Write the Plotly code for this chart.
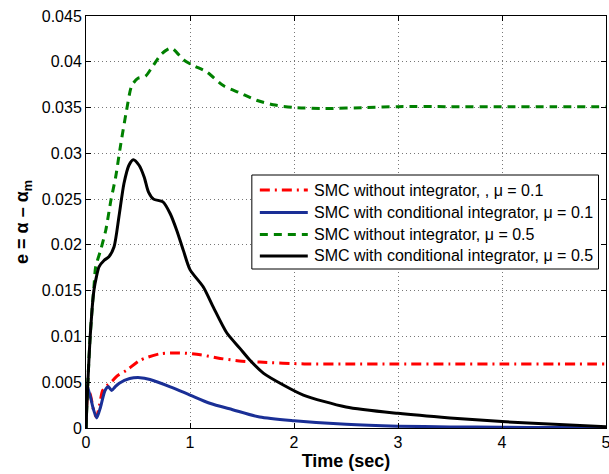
import plotly.graph_objects as go

# Tracking error e = alpha - alpha_m for the four controller runs
t_red = [0, 0.02, 0.045, 0.07, 0.1, 0.13, 0.16, 0.2, 0.25, 0.3, 0.39, 0.52, 0.71, 0.9,
         1.1, 1.29, 1.5, 1.67, 2.1, 2.5, 3.0, 3.5, 4.0, 4.5, 5.0]
e_red = [0, 0.0043, 0.0035, 0.0021, 0.0012, 0.0025, 0.0041, 0.0046, 0.0051, 0.0057,
         0.0063, 0.0074, 0.0081, 0.0082, 0.0080, 0.0076, 0.0073, 0.0072, 0.0070,
         0.0070, 0.0070, 0.0070, 0.0070, 0.0070, 0.0070]

t_blue = [0, 0.012, 0.02, 0.045, 0.07, 0.103, 0.14, 0.183, 0.215, 0.247, 0.28, 0.32,
          0.42, 0.52, 0.615, 0.81, 1.0, 1.19, 1.41, 1.67, 2.0, 2.5, 3.0, 3.5, 4.0,
          4.5, 5.0]
e_blue = [0, 0.0046, 0.0043, 0.0033, 0.0021, 0.0011, 0.0023, 0.0041, 0.0045, 0.0041,
          0.0045, 0.0049, 0.0054, 0.0055, 0.0053, 0.0045, 0.0036, 0.0027, 0.0020,
          0.0012, 0.0008, 0.0004, 0.0002, 0.00012, 0.00008, 0.00005, 0.00003]

t_green = [0, 0.01, 0.022, 0.038, 0.06, 0.077, 0.093, 0.14, 0.19, 0.24, 0.285, 0.33,
           0.39, 0.44, 0.5, 0.57, 0.63, 0.73, 0.82, 0.94, 1.03, 1.16, 1.32, 1.48,
           1.64, 1.8, 2.0, 2.3, 2.7, 3.0, 3.5, 4.0, 4.5, 5.0]
e_green = [0, 0.003, 0.006, 0.0096, 0.0132, 0.0155, 0.0176, 0.0194, 0.0216, 0.0249,
           0.0274, 0.0307, 0.0347, 0.0374, 0.0382, 0.0384, 0.0393, 0.0409, 0.0415,
           0.0402, 0.0396, 0.0389, 0.0374, 0.0366, 0.0358, 0.0353, 0.0350, 0.0349,
           0.0350, 0.0351, 0.0351, 0.0351, 0.0351, 0.0351]

t_black = [0, 0.01, 0.022, 0.038, 0.06, 0.077, 0.1, 0.125, 0.173, 0.22, 0.27, 0.317,
           0.365, 0.413, 0.455, 0.51, 0.56, 0.6, 0.65, 0.74, 0.81, 0.872, 0.936, 1.0,
           1.128, 1.224, 1.353, 1.48, 1.577, 1.705, 1.897, 2.09, 2.5, 3.0, 3.5, 4.0,
           4.5, 5.0]
e_black = [0, 0.003, 0.006, 0.0096, 0.0132, 0.0151, 0.0165, 0.0176, 0.0183, 0.0187,
           0.0198, 0.0231, 0.0267, 0.0287, 0.0293, 0.0287, 0.0274, 0.0258, 0.0250,
           0.0247, 0.0234, 0.0216, 0.0194, 0.0173, 0.0154, 0.0132, 0.0104, 0.0087,
           0.0074, 0.0060, 0.0047, 0.0036, 0.0023, 0.0016, 0.0011, 0.0007, 0.0004,
           0.00015]

series_names = [
    "SMC without integrator, , \u03bc = 0.1",
    "SMC with conditional integrator, \u03bc = 0.1",
    "SMC without integrator, \u03bc = 0.5",
    "SMC with conditional integrator, \u03bc = 0.5",
]

x_ticks = [0, 1, 2, 3, 4, 5]
x_tick_text = ["0", "1", "2", "3", "4", "5"]
y_ticks = [0, 0.005, 0.01, 0.015, 0.02, 0.025, 0.03, 0.035, 0.04, 0.045]
y_tick_text = ["0", "0.005", "0.01", "0.015", "0.02", "0.025", "0.03", "0.035",
               "0.04", "0.045"]

FONT = "Liberation Sans, Arial, Helvetica, sans-serif"
W, H = 609, 474
ML, MR, MT, MB = 86, 2.5, 16, 46
PW, PH = W - ML - MR, H - MT - MB


def px_x(p):
    return (p - ML) / PW


def px_y(p):
    return (H - MB - p) / PH


fig = go.Figure()
styles = [
    (t_red, e_red, "#ff0000", "10px,5px,2px,5px"),
    (t_blue, e_blue, "#1a2f96", "solid"),
    (t_green, e_green, "#008000", "8px,6px"),
    (t_black, e_black, "#000000", "solid"),
]
for name, (tx, ey, color, dash) in zip(series_names, styles):
    fig.add_trace(go.Scatter(
        x=tx, y=ey, mode="lines", name=name, showlegend=False,
        line=dict(color=color, width=3, dash=dash, shape="spline", smoothing=0.7),
    ))

# Boxed key inside the axes: frame, line samples and labels
box_l, box_t, box_r, box_b = 252, 175, 599, 269
row_y = [190, 212.5, 234.5, 256]
shapes = [dict(type="rect", xref="paper", yref="paper",
               x0=px_x(box_l), x1=px_x(box_r), y0=px_y(box_b), y1=px_y(box_t),
               line=dict(color="black", width=1), fillcolor="white", layer="above")]
annotations = []
for name, (_, _, color, dash), ry in zip(series_names, styles, row_y):
    shapes.append(dict(type="line", xref="paper", yref="paper",
                       x0=px_x(260), x1=px_x(308), y0=px_y(ry), y1=px_y(ry),
                       line=dict(color=color, width=3, dash=dash), layer="above"))
    annotations.append(dict(text=name, xref="paper", yref="paper",
                            x=px_x(312), y=px_y(ry), xanchor="left", yanchor="middle",
                            showarrow=False,
                            font=dict(family=FONT, size=16, color="black")))

axis_common = dict(
    showline=True, linecolor="black", linewidth=1, mirror="ticks",
    ticks="inside", ticklen=5, tickcolor="black",
    showgrid=True, gridcolor="#777777", gridwidth=1, griddash="1px,3px",
    zeroline=False, tickfont=dict(family=FONT, size=16, color="black"),
    ticklabeloverflow="allow", automargin=False,
)

fig.update_xaxes(
    range=[0, 5], tickvals=x_ticks, ticktext=x_tick_text,
    title=dict(text="<b>Time (sec)</b>", font=dict(family=FONT, size=18, color="black"),
               standoff=4),
    **axis_common,
)
fig.update_yaxes(
    range=[0, 0.045], tickvals=y_ticks, ticktext=y_tick_text,
    title=dict(text="<b>e = \u03b1 \u2013 \u03b1<sub>m</sub></b>",
               font=dict(family=FONT, size=18, color="black"), standoff=8),
    **axis_common,
)

fig.update_layout(
    width=W, height=H,
    margin=dict(l=ML, r=MR, t=MT, b=MB, autoexpand=False),
    paper_bgcolor="white", plot_bgcolor="white",
    font=dict(family=FONT, color="black"),
    shapes=shapes, annotations=annotations,
    showlegend=False,
)

fig.write_html("out.html")
